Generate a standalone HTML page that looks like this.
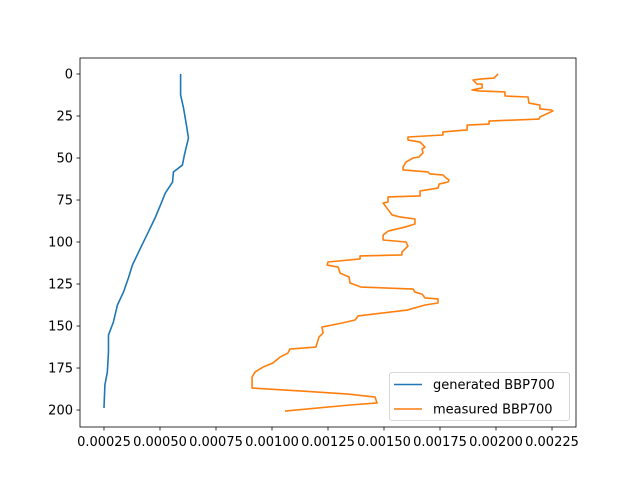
<!DOCTYPE html>
<html><head><meta charset="utf-8"><style>
body{margin:0;background:#fff;}
svg{display:block;font-family:"DejaVu Sans","Liberation Sans",sans-serif;}
</style></head><body>
<svg id="chart" width="640" height="480"></svg>
<script>
const xTicks=[0.00025,0.0005,0.00075,0.001,0.00125,0.0015,0.00175,0.002,0.00225];
const xTickLabels=["0.00025","0.00050","0.00075","0.00100","0.00125","0.00150","0.00175","0.00200","0.00225"];
const yTicks=[0,25,50,75,100,125,150,175,200];
const genDepth=[0,12.5,20.2,30.4,38.1,48.2,54.2,58.3,64.3,70.8,78,85.1,94,103.6,113.7,121.4,129.8,137.5,147.6,155.4,165.5,177.4,185.1,198.8];
const genValue=[0.000592,0.000592,0.000605,0.000618,0.000627,0.000609,0.0006,0.00056,0.000556,0.000524,0.000502,0.00048,0.000448,0.000413,0.000377,0.000359,0.000337,0.00031,0.000292,0.00027,0.00027,0.000265,0.000254,0.00025];
const measDepth=[0,2.4,3.0,3.6,6.0,6.0,8.3,9.5,10.1,10.7,13.1,13.7,17.3,18.5,20.8,21.4,22.0,25.6,26.8,28.0,29.8,30.4,33.3,34.5,36.3,37.5,39.3,40.5,43.5,44.6,47.0,49.4,50.0,52.4,55.4,57.1,58.3,59.5,60.1,61.3,63.1,64.3,65.5,67.9,69.6,72.6,73.2,76.2,76.8,79.8,83.9,85.1,86.3,89.3,91.1,93.5,95.8,98.8,100.0,102.4,106.0,107.7,108.3,110.1,111.9,113.7,114.9,118.5,120.8,124.4,126.8,128.0,129.8,131.0,133.3,133.9,136.3,137.5,140.5,144.0,146.4,148.2,150.6,154.2,156.5,162.5,163.7,166.1,168.5,172.0,174.4,177.4,180.4,186.9,188.7,190.5,192.3,195.8,197.0,200.6];
const measValue=[0.002009,0.001991,0.001929,0.001897,0.001915,0.001938,0.001938,0.001893,0.001924,0.00204,0.00204,0.002143,0.002147,0.002196,0.002196,0.002246,0.002254,0.002196,0.002192,0.001969,0.001969,0.001871,0.001871,0.001763,0.001763,0.001607,0.001607,0.001661,0.001683,0.00167,0.001674,0.001656,0.00163,0.001598,0.001585,0.001585,0.001696,0.001705,0.001763,0.001772,0.00179,0.001786,0.001746,0.001741,0.001661,0.001661,0.001518,0.001518,0.001496,0.001513,0.001536,0.001571,0.001638,0.001638,0.001594,0.001518,0.001496,0.001496,0.001598,0.001607,0.00158,0.00158,0.001393,0.001393,0.00125,0.001246,0.001295,0.001304,0.001344,0.001348,0.001397,0.00163,0.001638,0.00167,0.001683,0.001741,0.001741,0.001683,0.001603,0.001384,0.001371,0.001313,0.001223,0.001228,0.00121,0.001196,0.00108,0.001071,0.001036,0.001004,0.00096,0.000924,0.000911,0.000911,0.001134,0.001339,0.00146,0.001469,0.001348,0.001058];

const L=80,R=576,T=58,B=427;
const xMin=0.0001429,xMax=0.0023571,yMin=-9.52,yMax=210.1;
const X=v=>L+(v-xMin)/(xMax-xMin)*(R-L);
const Y=d=>T+(d-yMin)/(yMax-yMin)*(B-T);
const svg=document.getElementById('chart');
const NS='http://www.w3.org/2000/svg';
function mk(tag,attrs,parent){const e=document.createElementNS(NS,tag);for(const k in attrs)e.setAttribute(k,attrs[k]);(parent||svg).appendChild(e);return e;}

function series(vals,deps,color,name){
  const p=mk('polyline',{points:vals.map((v,i)=>X(v).toFixed(2)+','+Y(deps[i]).toFixed(2)).join(' '),fill:'none',stroke:color,'stroke-width':1.6,'stroke-linejoin':'round'});
  
  
}
series(genValue,genDepth,'#1f77b4','generated-bbp700-line');
series(measValue,measDepth,'#ff7f0e','measured-bbp700-line');

const frame=mk('rect',{x:L,y:T,width:R-L,height:B-T,fill:'none',stroke:'#000','stroke-width':0.8});



xTicks.forEach((v,i)=>{
  const x=X(v);
  mk('line',{x1:x,y1:B,x2:x,y2:B+3.5,stroke:'#000','stroke-width':0.8});
  const t=mk('text',{x:x,y:B+19,'font-size':13,'text-anchor':'middle',fill:'#000'});
  t.textContent=xTickLabels[i];
  
  
});
yTicks.forEach(d=>{
  const y=Y(d);
  mk('line',{x1:L,y1:y,x2:L-3.5,y2:y,stroke:'#000','stroke-width':0.8});
  const t=mk('text',{x:L-7,y:y+4.7,'font-size':13,'text-anchor':'end',fill:'#000'});
  t.textContent=d;
  
  
});

const lg=mk('g',{});


mk('rect',{x:389.5,y:372.5,width:180,height:48,rx:2.5,fill:'#fff','fill-opacity':0.8,stroke:'#ccc','stroke-width':0.8},lg);
[['generated BBP700','#1f77b4',384.5],['measured BBP700','#ff7f0e',409]].forEach(([lab,c,y])=>{
  const g=mk('g',{},lg);
  
  
  mk('line',{x1:394,y1:y,x2:422,y2:y,stroke:c,'stroke-width':1.6},g);
  const t=mk('text',{x:433,y:y+4.7,'font-size':13,fill:'#000'},g);
  t.textContent=lab;
});
</script>
</body></html>
